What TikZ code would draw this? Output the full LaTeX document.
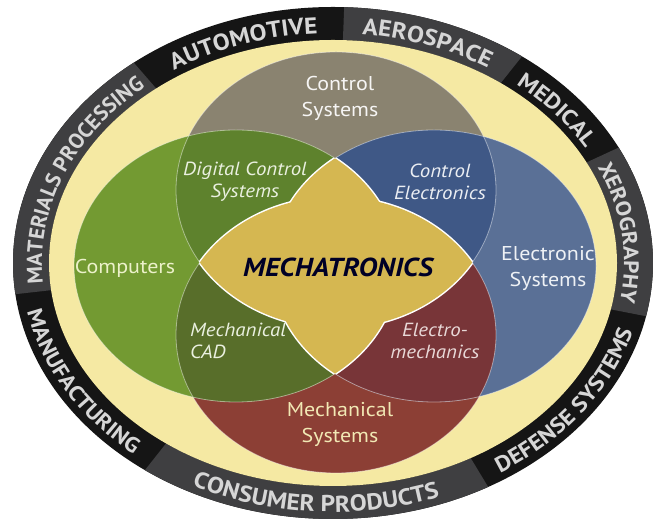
\documentclass[tikz,border=0pt]{standalone}
\usepackage{fontspec}
\setmainfont{PT Sans}
\newfontfamily\lblfont[FakeStretch=1.1]{PT Sans}
\usetikzlibrary{decorations.text}
\definecolor{ringblack}{HTML}{151515}
\definecolor{ringgrey}{HTML}{3F3F41}
\definecolor{ringtext}{HTML}{D6D6D6}
\definecolor{bandyellow}{HTML}{F5E9A3}
\definecolor{ctrlc}{HTML}{8A8370}
\definecolor{greenc}{HTML}{739A32}
\definecolor{bluec}{HTML}{5A7096}
\definecolor{redc}{HTML}{8C3F35}
\definecolor{dkgreen}{HTML}{5E822D}
\definecolor{dkblue}{HTML}{3F5886}
\definecolor{olivec}{HTML}{586E2A}
\definecolor{dkred}{HTML}{783538}
\definecolor{mustard}{HTML}{D5B751}
\def\ctrlE{(336,331) ellipse [x radius=160, y radius=138]}
\def\redE{(336,186) ellipse [x radius=160, y radius=138]}
\def\greenE{(236,255) ellipse [x radius=162, y radius=136]}
\def\blueE{(434,255) ellipse [x radius=162, y radius=136]}
\begin{document}
\begin{tikzpicture}[x=1pt,y=1pt,
  lbl/.style={align=center,inner sep=0pt,font=\lblfont\fontsize{20}{26}\selectfont},
  ilbl/.style={align=center,inner sep=0pt,font=\lblfont\fontsize{19}{22}\selectfont\itshape},
  outl/.style={white,opacity=.45,line width=.8pt},
  starl/.style={white,line width=3pt}]
\useasboundingbox (0,0) rectangle (653,521);
\fill[white] (0,0) rectangle (653,521);
\begin{scope}[shift={(333,258)}]
  \fill[ringblack] (0,0) ellipse [x radius=320, y radius=256];
  \foreach \a/\b in {128.5/187, 53.8/88, -12/26.8, 234/299}
    \fill[ringgrey] (\a:320 and 256) arc[start angle=\a,end angle=\b,x radius=320,y radius=256]
      -- (\b:284 and 223) arc[start angle=\b,end angle=\a,x radius=284,y radius=223] -- cycle;
  \fill[bandyellow] (0,0) ellipse [x radius=284, y radius=223];
  % clockwise (upper) labels
  \path[decorate,decoration={text along path,text align=center,text color=ringtext,
     text={|\lblfont\fontsize{23}{23}\selectfont\bfseries|AUTOMOTIVE}}]
     (128.5:291 and 230) arc[start angle=128.5,end angle=88,x radius=291,y radius=230];
  \path[decorate,decoration={text along path,text align=center,text color=ringtext,
     text={|\lblfont\fontsize{23}{23}\selectfont\bfseries|AEROSPACE}}]
     (88:291 and 230) arc[start angle=88,end angle=53.8,x radius=291,y radius=230];
  \path[decorate,decoration={text along path,text align=center,text color=ringtext,
     text={|\lblfont\fontsize{22}{22}\selectfont\bfseries|MEDICAL}}]
     (53.8:291 and 230) arc[start angle=53.8,end angle=26.8,x radius=291,y radius=230];
  \path[decorate,decoration={text along path,text align=center,text color=ringtext,
     text={|\lblfont\fontsize{21}{21}\selectfont\bfseries|XEROGRAPHY}}]
     (26.8:291 and 230) arc[start angle=26.8,end angle=-12,x radius=291,y radius=230];
  \path[decorate,decoration={text along path,text align=center,text color=ringtext,
     text={|\fontsize{21.5}{21.5}\selectfont\bfseries|MATERIALS PROCESSING}}]
     (187:291 and 230) arc[start angle=187,end angle=128.5,x radius=291,y radius=230];
  % counter-clockwise (lower) labels
  \path[decorate,decoration={text along path,text align=center,text color=ringtext,
     text={|\lblfont\fontsize{21.5}{21.5}\selectfont\bfseries|MANUFACTURING}}]
     (187:312 and 249) arc[start angle=187,end angle=234,x radius=312,y radius=249];
  \path[decorate,decoration={text along path,text align=center,text color=ringtext,
     text={|\lblfont\fontsize{23}{23}\selectfont\bfseries|CONSUMER PRODUCTS}}]
     (234:312 and 249) arc[start angle=234,end angle=299,x radius=312,y radius=249];
  \path[decorate,decoration={text along path,text align=center,text color=ringtext,
     text={|\lblfont\fontsize{22}{22}\selectfont\bfseries|DEFENSE SYSTEMS}}]
     (-61:312 and 249) arc[start angle=-61,end angle=-12,x radius=312,y radius=249];
\end{scope}
% Venn circles
\fill[ctrlc] \ctrlE;
\fill[redc] \redE;
\fill[greenc] \greenE;
\fill[bluec] \blueE;
\begin{scope}\clip \greenE; \fill[dkgreen] \ctrlE; \fill[olivec] \redE; \end{scope}
\begin{scope}\clip \blueE; \fill[dkblue] \ctrlE; \fill[dkred] \redE; \end{scope}
\draw[outl] \ctrlE; \draw[outl] \redE; \draw[outl] \greenE; \draw[outl] \blueE;
% central star
\begin{scope}\clip \greenE; \draw[starl] \blueE; \end{scope}
\begin{scope}\clip \blueE; \draw[starl] \greenE; \end{scope}
\begin{scope}\clip \ctrlE; \draw[starl] \redE; \end{scope}
\begin{scope}\clip \redE; \draw[starl] \ctrlE; \end{scope}
\begin{scope}\clip \greenE; \fill[mustard] \blueE; \end{scope}
\begin{scope}\clip \ctrlE; \fill[mustard] \redE; \end{scope}
% labels
\node[lbl,text=white!92!ctrlc] (ctrl) at (340,423) {Control\\Systems};
\node[lbl,text=white!85!greenc!90!yellow] (comp) at (125,253) {Computers};
\node[lbl,text=white!90!bluec] (elec) at (548,253) {Electronic\\Systems};
\node[lbl,text=white!85!redc!80!yellow] (mech) at (340,97) {Mechanical\\Systems};
\node[ilbl,text=white!85!greenc] (dcs) at (245,339) {Digital Control\\Systems};
\node[ilbl,text=white!88!bluec] (ce) at (440,339) {Control\\Electronics};
\node[ilbl,text=white!85!greenc,align=left,anchor=west] (cad) at (190,180) {Mechanical\\CAD};
\node[ilbl,text=white!80!redc] (em) at (435,180) {Electro-\\mechanics};
\node[inner sep=0pt,text=black!85!blue,font=\lblfont\fontsize{26}{26}\selectfont\bfseries\itshape] (mt) at (338,254) {MECHATRONICS};
\end{tikzpicture}
\end{document}
